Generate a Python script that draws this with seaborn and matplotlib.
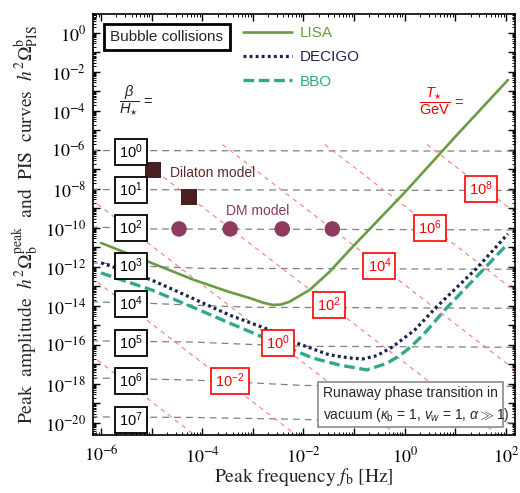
import numpy as np
import pandas as pd
import matplotlib
matplotlib.use("Agg")
import matplotlib.pyplot as plt
import seaborn as sns
from matplotlib.patches import Rectangle
from matplotlib.ticker import LogLocator, FuncFormatter, NullFormatter

# -----------------------------
# Data (log10 values)
# -----------------------------
lisa_logf = [-6.0, -5.0, -4.16, -3.47, -3.07, -2.8, -2.61, -2.45, -2.28, -1.88, -1.49, -1.03, 0.0, 1.0, 2.04]
lisa_logomega = [-10.77, -11.8, -12.67, -13.28, -13.59, -13.83, -13.95, -13.93, -13.79, -13.18, -12.26, -10.97, -8.18, -5.32, -2.41]

decigo_logf = [-6.0, -5.0, -4.2, -3.47, -2.67, -2.14, -1.49, -1.09, -0.83, -0.55, -0.24, 0.2, 0.63, 1.43, 2.04]
decigo_logomega = [-11.79, -12.67, -13.6, -14.46, -15.23, -15.9, -16.51, -16.67, -16.72, -16.55, -16.1, -15.23, -14.05, -12.05, -10.3]

bbo_logf = [-6.0, -5.0, -4.2, -3.47, -2.81, -2.3, -1.82, -1.29, -0.75, -0.36, -0.1, 0.12, 0.38, 0.83, 1.49, 2.04]
bbo_logomega = [-12.31, -13.18, -14.05, -14.87, -15.59, -16.15, -16.67, -17.03, -17.28, -16.95, -16.55, -16.1, -15.44, -14.1, -12.31, -10.8]

# iso-(beta/H*) lines, grey
beta_h_exponents = [0, 1, 2, 3, 4, 5, 6, 7]
gray_logf = [
    [-6.2, 2.2],
    [-6.2, 2.2],
    [-6.2, -5.0, 2.2],
    [-6.2, -5.6, -5.0, -4.0, 2.2],
    [-6.2, -5.2, -4.0, -3.0, 2.2],
    [-6.2, -4.2, -3.0, -2.0, 2.2],
    [-6.2, -4.2, -3.0, -2.0, 2.2],
    [-6.2, -4.2, -2.0, -1.0, 2.2],
]
gray_logomega = [
    [-6.03, -6.06],
    [-8.03, -8.08],
    [-9.95, -10.05, -10.1],
    [-11.79, -11.85, -11.98, -12.07, -12.12],
    [-13.79, -13.85, -13.98, -14.07, -14.12],
    [-15.79, -15.85, -15.98, -16.07, -16.12],
    [-17.69, -17.8, -17.95, -18.08, -18.12],
    [-19.69, -19.72, -19.82, -19.95, -20.0],
]

# iso-T* lines, red (start at beta/H ~ 1, end far beyond the frame)
t_exponents = [-6, -4, -2, 0, 2, 4, 6, 8]
red_logf_start = [-13.6, -11.6, -9.6, -7.6, -5.6, -3.6, -1.58, 0.44]
red_logomega_start = [-5.72] * 8
red_logf_end = [-4.6, -2.6, -0.6, 1.4, 3.4, 5.4, 7.42, 9.44]
red_logomega_end = [-23.72] * 8

# benchmark models
dilaton_logf = [-4.97, -4.26]
dilaton_logomega = [-7.03, -8.41]
dm_logf = [-4.46, -3.45, -2.42, -1.43]
dm_logomega = [-10.05, -10.05, -10.05, -10.05]

# -----------------------------
# Style
# -----------------------------
sns.set_style("ticks")
plt.rcParams["font.family"] = ["STIXGeneral", "DejaVu Sans"]
plt.rcParams["mathtext.fontset"] = "stix"
plt.rcParams["mathtext.rm"] = "Liberation Sans"
plt.rcParams["mathtext.it"] = "Liberation Sans:italic"
plt.rcParams["mathtext.bf"] = "Liberation Sans:bold"
plt.rcParams["mathtext.sf"] = "Liberation Sans"

SANS = "Liberation Sans"
C_LISA = "#6b9b42"
C_DECIGO = "#1c2250"
C_BBO = "#2fa98a"
C_RED = "#ff0000"

W, H = 520, 493
AX_L, AX_R, AX_T, AX_B = 93, 515, 14, 435

fig = plt.figure(figsize=(W / 100, H / 100), dpi=100)
ax = fig.add_axes([AX_L / W, (H - AX_B) / H, (AX_R - AX_L) / W, (AX_B - AX_T) / H])
ax.set_xscale("log")
ax.set_yscale("log")


def frac(px, py):
    return (px - AX_L) / (AX_R - AX_L), (AX_B - py) / (AX_B - AX_T)


def pw(a):
    return 10 ** np.asarray(a, dtype=float)


# -----------------------------
# Background guide lines
# -----------------------------
for lf, lo in zip(gray_logf, gray_logomega):
    ax.plot(pw(lf), pw(lo), color="#808080", lw=0.9, dashes=(5.5, 4), zorder=1)

for fs, os_, fe, oe in zip(red_logf_start, red_logomega_start, red_logf_end, red_logomega_end):
    ax.plot(pw([fs, fe]), pw([os_, oe]), color="#ff7a7a", lw=0.8, dashes=(4, 4), zorder=1)

# -----------------------------
# PIS curves
# -----------------------------
curves = [
    ("LISA", lisa_logf, lisa_logomega, C_LISA, dict(lw=1.9, linestyle="-")),
    ("DECIGO", decigo_logf, decigo_logomega, C_DECIGO, dict(lw=2.3, dashes=(0.9, 1.0))),
    ("BBO", bbo_logf, bbo_logomega, C_BBO, dict(lw=2.4, dashes=(3.2, 1.4))),
]
handles = []
for name, lf, lo, col, kw in curves:
    df = pd.DataFrame({"f": pw(lf), "omega": pw(lo)})
    sns.lineplot(data=df, x="f", y="omega", color=col, ax=ax, sort=False,
                 estimator=None, label=name, zorder=4, **kw)
    handles.append(ax.lines[-1])

# -----------------------------
# Benchmark points
# -----------------------------
sns.scatterplot(x=pw(dilaton_logf), y=pw(dilaton_logomega), marker="s", s=135,
                color="#4a1f1f", edgecolor="none", ax=ax, zorder=6)
sns.scatterplot(x=pw(dm_logf), y=pw(dm_logomega), marker="o", s=125,
                color="#8e3b5f", edgecolor="none", ax=ax, zorder=6)

ax.text(pw(-4.63), pw(-7.18), "Dilaton model", family=SANS, fontsize=10,
        color="#5c2b2b", ha="left", va="center", zorder=7)
ax.text(pw(-2.91), pw(-9.13), "DM model", family=SANS, fontsize=10,
        color="#8b3a62", ha="center", va="center", zorder=7)

# -----------------------------
# Labels on the guide lines
# -----------------------------
beta_label_logomega = [-6.1, -8.05, -10.0, -11.95, -13.9, -15.9, -17.85, -19.85]
for e, lo in zip(beta_h_exponents, beta_label_logomega):
    ax.text(pw(-5.41), pw(lo), rf"$10^{{{e}}}$", family=SANS, math_fontfamily="custom",
            fontsize=10.5, color="black", ha="center", va="center", zorder=8,
            bbox=dict(boxstyle="square,pad=0.28", fc="white", ec="black", lw=1.3))

red_label_logf = [-3.45, -2.51, -1.5, -0.5, 0.5, 1.5]
red_label_logomega = [-17.85, -15.9, -13.95, -11.95, -10.0, -8.0]
for e, lf, lo in zip(t_exponents[2:], red_label_logf, red_label_logomega):
    ax.text(pw(lf), pw(lo), rf"$10^{{{e}}}$", family=SANS, math_fontfamily="custom",
            fontsize=10.5, color=C_RED, ha="center", va="center", zorder=8,
            bbox=dict(boxstyle="square,pad=0.28", fc="white", ec=C_RED, lw=1.2))

ax.text(pw(-5.32), pw(-3.49), r"$\dfrac{\beta}{H_{\star}}$ =", family=SANS,
        math_fontfamily="custom", fontsize=10.5, ha="center", va="center", zorder=8)
ax.text(pw(0.72), pw(-3.49), r"$\dfrac{T_{\star}}{\mathrm{GeV}}$ =", family=SANS,
        math_fontfamily="custom", fontsize=10.5, color=C_RED, ha="center", va="center", zorder=8)

# -----------------------------
# Legend and boxes
# -----------------------------
bx, by = frac(167, 37)
ax.text(bx, by, "Bubble collisions", transform=ax.transAxes, family=SANS, fontsize=11,
        ha="center", va="center", zorder=9,
        bbox=dict(boxstyle="square,pad=0.42", fc="white", ec="black", lw=2))

lx, ly = frac(243, 26)
leg = ax.legend(handles=handles, labels=["LISA", "DECIGO", "BBO"], loc="upper left",
                bbox_to_anchor=(lx, ly), frameon=False, prop=dict(family=SANS, size=11),
                handlelength=3.2, handletextpad=0.5, labelspacing=0.68,
                borderpad=0, borderaxespad=0, labelcolor="linecolor")
leg.set_zorder(9)

rx, ry = frac(318, 427)
rw, rh = 185 / (AX_R - AX_L), 45 / (AX_B - AX_T)
ax.add_patch(Rectangle((rx, ry), rw, rh, transform=ax.transAxes, fc="white",
                       ec="#8a8a8a", lw=1.2, zorder=9))
t1x, t1y = frac(323, 393)
ax.text(t1x, t1y, "Runaway phase transition in", transform=ax.transAxes, family=SANS,
        fontsize=10, ha="left", va="center", zorder=10)
t2x, t2y = frac(323, 415)
ax.text(t2x, t2y, r"vacuum ($\kappa_{\rm b}$ = 1, $v_{w}$ = 1, $\alpha \gg 1$)",
        transform=ax.transAxes, family=SANS, math_fontfamily="custom",
        fontsize=10, ha="left", va="center", zorder=10)

# -----------------------------
# Axes, ticks, labels
# -----------------------------
ax.set_xlim(10 ** -6.16, 10 ** 2.18)
ax.set_ylim(10 ** -20.62, 10 ** 0.974)


def even_decade(v, pos):
    e = int(round(np.log10(v)))
    return rf"$10^{{{e}}}$" if e % 2 == 0 else ""


ax.xaxis.set_major_locator(LogLocator(base=10, numticks=30))
ax.yaxis.set_major_locator(LogLocator(base=10, numticks=40))
ax.xaxis.set_major_formatter(FuncFormatter(even_decade))
ax.yaxis.set_major_formatter(FuncFormatter(even_decade))
ax.xaxis.set_minor_locator(LogLocator(base=10, subs=np.arange(2, 10), numticks=30))
ax.yaxis.set_minor_locator(LogLocator(base=10, subs=np.arange(2, 10), numticks=40))
ax.xaxis.set_minor_formatter(NullFormatter())
ax.yaxis.set_minor_formatter(NullFormatter())
ax.tick_params(which="both", direction="in", top=True, right=True, colors="black")
ax.tick_params(which="major", length=5, width=1.0, labelsize=13)
ax.tick_params(axis="x", which="major", pad=8)
ax.tick_params(axis="y", which="major", pad=5)
ax.tick_params(which="minor", length=2.5, width=0.7)
for sp in ax.spines.values():
    sp.set_linewidth(1.2)
    sp.set_color("black")

ax.set_xlabel(r"Peak frequency $f_{\rm b}$ [Hz]", fontsize=14)
ax.set_ylabel(r"Peak  amplitude  $h^2\Omega_{\rm b}^{\rm peak}$  and  PIS  curves  $h^2\Omega_{\rm PIS}^{\rm b}$",
              fontsize=14)
ax.xaxis.set_label_coords(0.5, (AX_B - 466) / (AX_B - AX_T))
ax.yaxis.set_label_coords((41 - AX_L) / (AX_R - AX_L), 0.5)

fig.savefig("out.png", dpi=100)
plt.close(fig)
